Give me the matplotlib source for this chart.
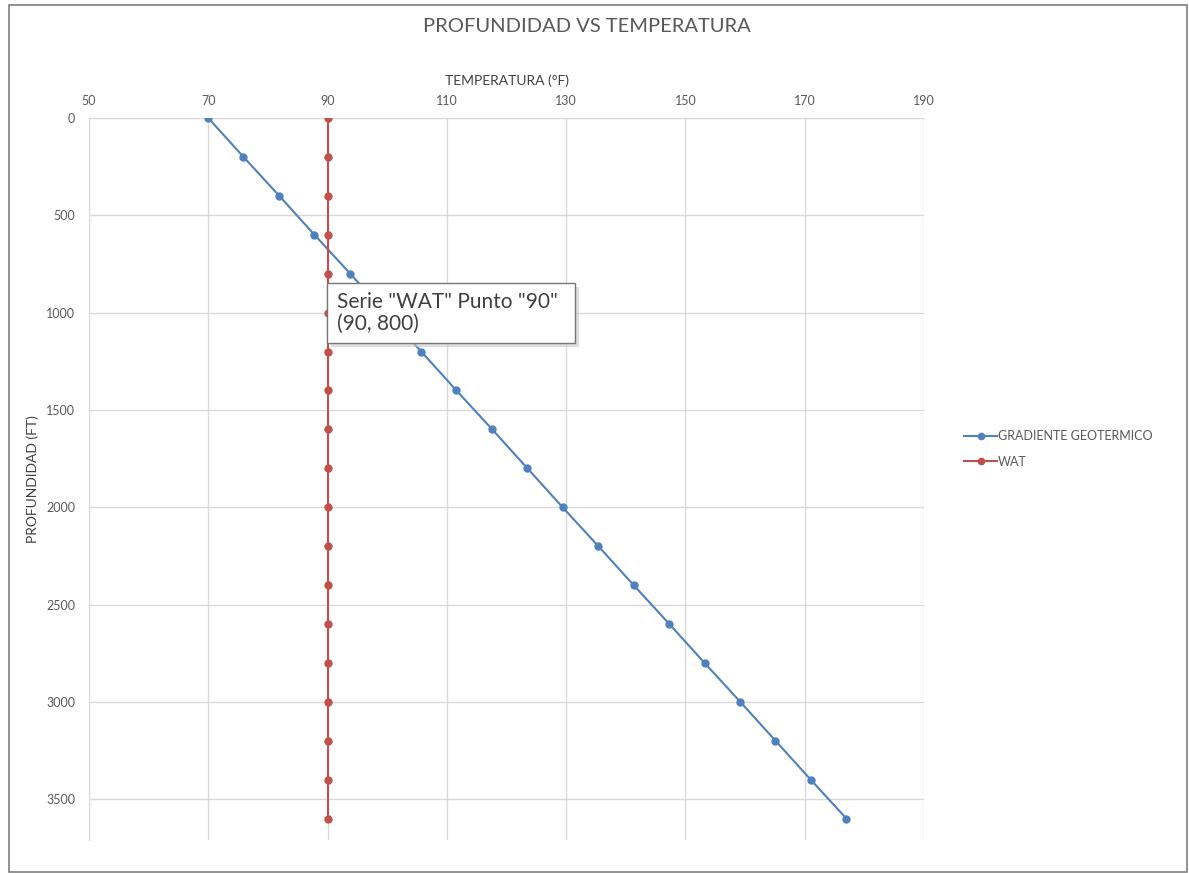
import matplotlib
matplotlib.use("Agg")
import matplotlib.pyplot as plt
from matplotlib.patches import Rectangle

plt.rcParams['font.family'] = ['Lato', 'DejaVu Sans']

# data
profundidad = [0, 200, 400, 600, 800, 1000, 1200, 1400, 1600, 1800,
               2000, 2200, 2400, 2600, 2800, 3000, 3200, 3400, 3600]
gradiente = [70, 75.9, 81.9, 87.8, 93.8, 99.7, 105.7, 111.6, 117.6, 123.5,
             129.4, 135.4, 141.3, 147.3, 153.2, 159.2, 165.1, 171.0, 177.0]
wat = [90] * len(profundidad)

x_ticks = [50, 70, 90, 110, 130, 150, 170, 190]
y_ticks = [0, 500, 1000, 1500, 2000, 2500, 3000, 3500]

gray = '#595959'
grid = '#d9d9d9'

fig = plt.figure(figsize=(11.89, 8.73), dpi=100)
ax = fig.add_axes([89/1189, 1-840/873, (924-89)/1189, (840-118)/873])

ax.plot(gradiente, profundidad, color='#4F81BD', lw=1.5, marker='o', ms=5,
        label='GRADIENTE GEOTERMICO', zorder=3)
ax.plot(wat, profundidad, color='#C0504D', lw=1.5, marker='o', ms=5,
        label='WAT', zorder=3)

ax.set_xlim(50, 190)
ax.set_ylim(3710, 0)
ax.xaxis.tick_top()
ax.xaxis.set_label_position('top')
ax.set_xticks(x_ticks)
ax.set_yticks(y_ticks)
ax.tick_params(length=0, labelsize=9, labelcolor=gray)
ax.tick_params(axis='x', pad=8)
ax.tick_params(axis='y', pad=10)
ax.grid(True, color=grid, lw=1)
for s in ['right', 'bottom']:
    ax.spines[s].set_visible(False)
for s in ['left', 'top']:
    ax.spines[s].set_color(grid)

ax.set_xlabel('TEMPERATURA (°F)', fontsize=10, color='#404040', labelpad=7)
ax.set_ylabel('PROFUNDIDAD (FT)', fontsize=10, color='#404040', labelpad=5)

fig.text(587/1189, 1-26/873, 'PROFUNDIDAD VS TEMPERATURA', ha='center', va='center',
         fontsize=14.5, color=gray)

leg = ax.legend(loc='center left', bbox_to_anchor=(953/1189, 1-449/873),
                bbox_transform=fig.transFigure, frameon=False, fontsize=9,
                handlelength=2.6, handletextpad=0.1, labelspacing=1.1, markerscale=0.9)
for t in leg.get_texts():
    t.set_color(gray)

# hover tooltip shown in the screenshot
fig.patches.append(Rectangle((331/1189, 1-347/873), 248/1189, 60/873,
                             transform=fig.transFigure, facecolor='#c8c8c8',
                             edgecolor='none', alpha=0.6, zorder=9))
fig.patches.append(Rectangle((327/1189, 1-343/873), 248/1189, 60/873,
                             transform=fig.transFigure, facecolor='white',
                             edgecolor='#767676', lw=1, zorder=10))
fig.text(337/1189, 1-313/873, 'Serie "WAT" Punto "90"\n(90, 800)', ha='left',
         va='center', fontsize=15, color='#404040', linespacing=1.1, zorder=11)

# chart border
fig.patches.append(Rectangle((9/1189, 1/873), 1178/1189, 867/873,
                             transform=fig.transFigure, facecolor='none',
                             edgecolor='#7f7f7f', lw=1.2, zorder=12))

fig.savefig('out.png', dpi=100)
